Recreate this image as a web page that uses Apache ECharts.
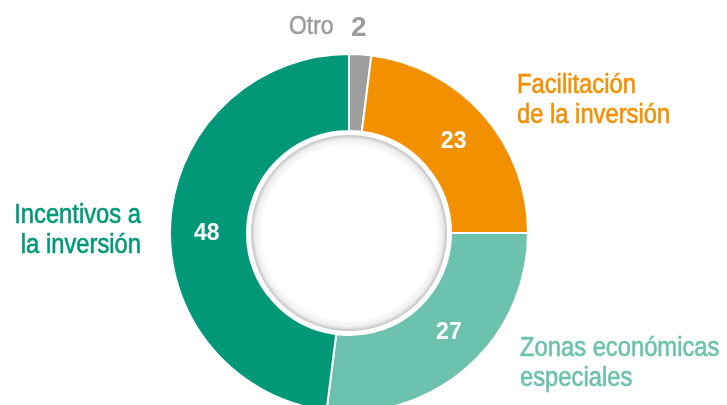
<!DOCTYPE html>
<html><head><meta charset="utf-8">
<script src="https://cdn.jsdelivr.net/npm/echarts@6/dist/echarts.min.js"></script>
<style>html,body{margin:0;padding:0;background:#fff}#c{width:727px;height:405px}</style>
</head><body><div id="c"></div>
<script>
var categories = ['Otro', 'Facilitación\nde la inversión', 'Zonas económicas\nespeciales', 'Incentivos a\nla inversión'];
var values = [2, 23, 27, 48];
var colors = ['#9d9d9c', '#f39000', '#6cc2ad', '#009877'];

var FONT = '"Liberation Sans", Arial, sans-serif';
var chart = echarts.init(document.getElementById('c'));
var CX = 349, CY = 233, R0 = 102, R1 = 179;

// layout only: outer category label anchors and inner value nudges
var outerPos = [
  {x: 289, y: 27, align: 'left'},
  {x: 517, y: 101, align: 'left'},
  {x: 520, y: 364, align: 'left'},
  {x: 141, y: 231, align: 'right'}
];
var innerNudge = [[0, 0], [-3, 4], [5, -8], [1, 10]];

var data = categories.map(function (c, i) {
  return {name: c, value: values[i], itemStyle: {color: colors[i]}};
});

var graphics = [{
  type: 'circle',
  silent: true,
  shape: {cx: CX, cy: CY, r: R0 - 1},
  style: {
    fill: new echarts.graphic.RadialGradient(0.5, 0.5, 0.5, [
      {offset: 0, color: '#ffffff'},
      {offset: 0.86, color: '#ffffff'},
      {offset: 0.93, color: '#eeeeee'},
      {offset: 0.965, color: '#c8c8c8'},
      {offset: 0.975, color: '#ffffff'},
      {offset: 1, color: '#ffffff'}
    ])
  }
}];

categories.forEach(function (c, i) {
  var o = outerPos[i];
  graphics.push({
    type: 'text',
    silent: true,
    x: o.x, y: o.y,
    scaleX: 0.88,
    style: {
      text: c,
      fill: colors[i],
      stroke: colors[i],
      lineWidth: 0.6,
      font: (i === 0 ? '26px ' : '27px ') + FONT,
      lineHeight: 30,
      align: o.align,
      verticalAlign: 'middle'
    }
  });
});
// value next to "Otro"
graphics.push({
  type: 'text',
  silent: true,
  x: 351, y: 28,
  style: {
    text: String(values[0]),
    fill: colors[0],
    font: 'bold 28px ' + FONT,
    align: 'left',
    verticalAlign: 'middle'
  }
});

chart.setOption({
  animation: false,
  series: [{
    type: 'pie',
    center: [CX, CY],
    radius: [R0, R1],
    startAngle: 90,
    clockwise: true,
    silent: true,
    itemStyle: {borderColor: '#fff', borderWidth: 2},
    label: {
      show: true, position: 'inside', color: '#fff', fontFamily: FONT,
      fontWeight: 'bold', fontSize: 23,
      formatter: function (p) { return p.dataIndex === 0 ? '' : String(p.value); }
    },
    labelLayout: function (p) {
      var n = innerNudge[p.dataIndex];
      return {dx: n[0], dy: n[1]};
    },
    labelLine: {show: false},
    data: data
  }],
  graphic: graphics
});
</script></body></html>
